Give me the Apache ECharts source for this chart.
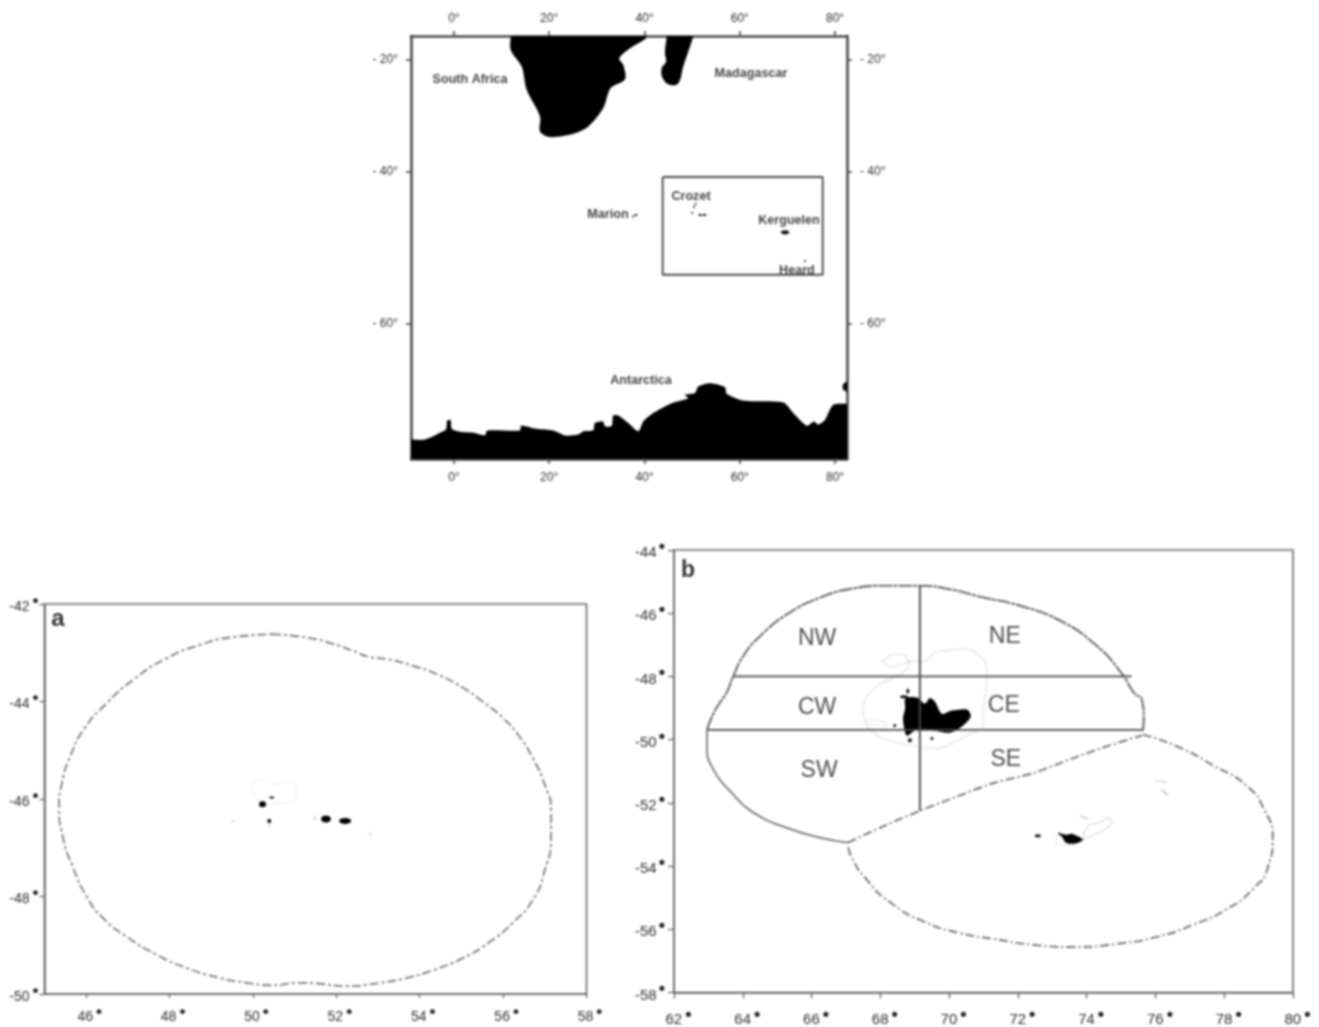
<!DOCTYPE html>
<html><head><meta charset="utf-8">
<style>html,body{margin:0;padding:0;background:#fff}#c{width:1319px;height:1027px;filter:blur(0.85px)}</style>
<script src="https://cdn.jsdelivr.net/npm/echarts@6/dist/echarts.min.js"></script>
</head><body><div id="c"></div>
<script>
// ---- overview map (lon, lat) ----
const mapLonTicks=[0,20,40,60,80];
const mapLatTicks=[-20,-40,-60];
const africa=[[11.92,-12],[11.92,-15.24],[11.92,-18.02],[14.23,-21.3],[15.28,-25.74],[18.07,-30.63],[18.07,-33.3],[20.17,-34.26],[25.06,-33.68],[28.21,-32.4],[31.35,-29.1],[32.91,-25.4],[35.91,-23.72],[35.55,-20.96],[34.71,-19.66],[36.96,-17.68],[40.1,-15.9],[40.46,-15.24],[41,-12]];
const madagascar=[[44.9,-12],[44.66,-15.24],[44.3,-18.67],[44.51,-20.33],[43.6,-21.6],[43.82,-23.52],[45.35,-24.8],[47.1,-24.48],[48.14,-21.29],[49.55,-17.36],[50.24,-15.24],[51,-12]];
const antarctica=[[-13,-74],[-13,-70.05],[-9,-70.05],[-6.06,-70.05],[-2.92,-69.56],[-1.66,-69.33],[-1.39,-68.65],[-0.67,-68.65],[-0.46,-69.27],[1.28,-69.49],[4.07,-69.56],[6.53,-69.74],[7.01,-69.4],[13.87,-69.4],[14.08,-69.04],[17.38,-69.27],[20.86,-69.4],[23.32,-69.76],[26.11,-69.69],[27.16,-69.45],[29.25,-69.38],[29.61,-68.84],[31.35,-68.75],[31.71,-69.09],[33.12,-69.04],[33.45,-68.26],[34.5,-68.26],[36.6,-68.84],[38.7,-69.45],[39.75,-68.72],[41.85,-68.08],[45.71,-67.3],[49.19,-66.9],[48.5,-66.62],[50.6,-66.47],[51.29,-65.92],[53.75,-65.63],[56.9,-65.97],[57.25,-66.53],[60.73,-67.09],[69.13,-67.25],[71.23,-68.08],[74.04,-69.04],[75.57,-68.72],[76.47,-68.96],[77.88,-68.6],[79.62,-67.43],[82.5,-67.35],[86,-67.35],[86,-74]];
const antarcticaEdge=[[84,-65.35],[81.76,-65.69],[81.76,-66.2],[84,-66.45]];
const insetBox=[[43.82,-40.85],[77.4,-40.85],[77.4,-54.47],[43.82,-54.47],[43.82,-40.85]];
const mapIslands=[[38.2,-46.56],[37.6,-46.8],[50.4,-45.41],[50.0,-46.27],[51.7,-46.56],[52.6,-46.56],[50.7,-44.98],[69.5,-49.0],[73.7,-52.76]];
const mapIslandW=[3,2,2,2,4,4,2,8,2];
const mapIslandH=[2,2,2,2,2,2,2,4,2];
const mapNames=[["South Africa",3.38,-23.76],["Madagascar",62.35,-22.6],["Crozet",49.76,-43.82],["Kerguelen",70.33,-47.3],["Heard",72.0,-53.92],["Marion",32.34,-46.47],["Antarctica",39.26,-65.39]];

// ---- panel a ----
const aLonTicks=[46,48,50,52,54,56,58];
const aBoundary=[[50.46,-42.62],[51.37,-42.7],[51.92,-42.82],[52.4,-42.96],[52.81,-43.09],[53.21,-43.13],[53.84,-43.27],[54.41,-43.44],[55.04,-43.72],[55.52,-44.01],[56,-44.34],[56.4,-44.73],[56.71,-45.16],[57,-45.71],[57.15,-46.23],[57.15,-46.78],[57,-47.46],[56.71,-48.07],[56.23,-48.54],[55.68,-48.93],[55.04,-49.26],[54.32,-49.51],[53.69,-49.67],[53.05,-49.77],[52.25,-49.84],[51.61,-49.79],[51.13,-49.77],[50.41,-49.82],[49.86,-49.77],[49.21,-49.67],[48.42,-49.47],[47.7,-49.2],[46.98,-48.83],[46.4,-48.44],[46.02,-48.01],[45.66,-47.35],[45.44,-46.78],[45.35,-46.16],[45.42,-45.67],[45.61,-45.14],[45.97,-44.54],[46.5,-44.03],[47.12,-43.56],[47.94,-43.11],[48.73,-42.84],[49.52,-42.68],[50.46,-42.62]];
const aShelf=[[49.98,-45.67],[50.12,-45.59],[50.36,-45.63],[50.53,-45.71],[50.77,-45.65],[50.96,-45.67],[51.05,-45.82],[50.93,-46.06],[50.58,-46.08],[50.34,-46.12],[50.1,-45.98],[50,-45.82],[49.98,-45.67]];
const aIslands=[[50.23,-46.11],[50.45,-45.97],[50.39,-46.45],[51.75,-46.41],[52.21,-46.45]];
const aIslandW=[7,5,4,10,12];
const aIslandH=[6,2,4,7,6];
const aFaint=[[49.52,-46.45],[52.81,-46.72],[51.49,-46.39],[50.4,-46.55]];

// ---- panel b ----
const bNorth=[[62.96,-49.68],[63.19,-49.08],[63.54,-48.49],[63.69,-48.08],[64.01,-47.36],[64.5,-46.73],[65.28,-46.04],[66.24,-45.51],[67.2,-45.22],[68.19,-45.13],[69.15,-45.13],[70.11,-45.26],[70.9,-45.48],[72.06,-45.76],[73.22,-46.23],[74.24,-46.98],[74.97,-47.83],[75.4,-48.55],[75.6,-48.71],[75.66,-49.34],[75.63,-49.74]];
const bSouthWest=[[62.96,-49.68],[62.96,-50.28],[63.13,-50.91],[63.63,-51.63],[64.41,-52.38],[65.28,-52.79],[66.24,-53.1],[67.06,-53.26]];
const bSplit=[[67.06,-53.26],[68.19,-52.69],[69.15,-52.25],[70.11,-51.85],[71.27,-51.38],[72.44,-51.06],[73.6,-50.59],[74.67,-50.18],[75.6,-49.87]];
const bHeard=[[75.63,-49.84],[76.62,-50.21],[77.67,-50.81],[78.66,-51.47],[79.18,-52.25],[79.41,-53.1],[79.27,-54.04],[78.83,-54.73],[78.08,-55.36],[77.09,-55.86],[76.04,-56.24],[74.88,-56.46],[73.6,-56.56],[72.44,-56.49],[71.27,-56.3],[70.31,-56.12],[69.3,-55.77],[68.28,-55.14],[67.55,-54.36],[67.17,-53.73],[67.06,-53.32]];
const bDivideNorth=[[63.72,-48],[75.31,-48]];
const bDivideSouth=[[62.97,-49.69],[75.64,-49.69]];
const bDivideMeridian=[[69.15,-45.13],[69.15,-52.25]];
const kerguelen=[[68.72,-48.71],[68.86,-48.65],[69.09,-48.68],[69.3,-48.86],[69.44,-48.68],[69.59,-48.8],[69.79,-49.18],[70.08,-49.08],[70.52,-49.05],[70.63,-49.27],[70.4,-49.56],[70.02,-49.78],[69.53,-49.71],[69.06,-49.68],[68.77,-49.87],[68.66,-49.34],[68.72,-49.02]];
const heard=[[73.16,-52.95],[73.4,-53.01],[73.57,-52.98],[73.89,-53.17],[73.66,-53.29],[73.4,-53.26],[73.28,-53.07]];
const bDots=[[68.86,-50.02],[69.5,-49.96],[68.42,-49.55],[68.69,-48.64],[68.8,-48.46],[72.58,-53.04]];
const bDotW=[4,3,3,8,3,6];
const bDotH=[4,3,3,3,5,3];
const kerguelenShelf=[[68.08,-47.52],[68.34,-47.3],[68.66,-47.3],[68.86,-47.52],[69.24,-47.52],[69.65,-47.23],[70.52,-47.14],[70.84,-47.3],[71.07,-47.61],[71.1,-48.08],[71.04,-48.71],[70.98,-49.24],[70.98,-49.56],[70.52,-49.87],[69.65,-50.28],[68.86,-50.18],[68.08,-49.96],[67.61,-49.56],[67.49,-48.93],[67.9,-48.3],[68.48,-47.99],[68.77,-47.77],[68.86,-47.52],[68.28,-47.7],[68.08,-47.52]];
const kerguelenInner=[[67.58,-49.37],[68.13,-49.43],[68.19,-49.59],[67.7,-49.55],[67.58,-49.37]];
const heardShelf=[[73.95,-52.88],[74.09,-52.69],[74.38,-52.63],[74.62,-52.47],[74.73,-52.63],[74.47,-52.88],[74.15,-53.04],[73.89,-53.17],[73.95,-52.88]];
const heardShelf2=[[73.13,-53.1],[73.1,-53.32],[73.66,-53.35]];
const heardShelf3=[[73.8,-52.41],[74.03,-52.51]];
const mcdA=[[76,-51.31],[76.34,-51.34]];
const mcdB=[[76.19,-51.6],[76.36,-51.75]];
const sectorNames=[["NW",66.16,-46.81],["CW",66.16,-48.98],["SW",66.22,-50.99],["NE",71.62,-46.75],["CE",71.59,-48.91],["SE",71.65,-50.64]];

// Mercator for the overview map's latitude axis
const merc=lat=>Math.log(Math.tan(Math.PI/4+lat*Math.PI/360));
const invMerc=m=>(2*Math.atan(Math.exp(m))-Math.PI/2)*180/Math.PI;
const proj=pts=>pts.map(p=>[p[0],merc(p[1])]);

const FONT='"Liberation Sans",Arial,sans-serif', INK='#2e2e2e', AX='#666';
function panelRich(fs,lh,gap){return {
  n:{fontFamily:FONT,color:INK,fontSize:fs,lineHeight:lh,verticalAlign:'middle'},
  d:{fontFamily:FONT,color:'#222',fontWeight:'bold',fontSize:fs+3,lineHeight:2,verticalAlign:'top',padding:[0,0,0,gap]}};}

function polygon(pts,x,y,smooth){return {type:'custom',xAxisIndex:x,yAxisIndex:y,data:pts,silent:true,clip:true,z:3,encode:{x:0,y:1},
  renderItem:(p,api)=>p.dataIndex===0?{type:'polygon',shape:{points:pts.map(q=>api.coord(q)),smooth:smooth||0},style:{fill:'#000'}}:null};}
function line(pts,x,y,color,width,type,smooth,z){return {type:'line',xAxisIndex:x,yAxisIndex:y,data:pts,showSymbol:false,silent:true,clip:true,smooth:smooth||false,z:z||4,
  lineStyle:{color:color,width:width,type:type||'solid'}};}
function dots(pts,w,h,x,y,color){return {type:'scatter',xAxisIndex:x,yAxisIndex:y,silent:true,z:5,
  data:pts.map((p,i)=>({value:p,symbolSize:[w[i],h[i]]})),itemStyle:{color:color||'#000',opacity:1}};}
function texts(rows,x,y,toY,fs,weight,color){return {type:'scatter',xAxisIndex:x,yAxisIndex:y,silent:true,z:6,symbolSize:0.1,itemStyle:{color:'transparent'},
  data:rows.map(r=>({name:r[0],value:[r[1],toY(r[2])]})),
  label:{show:true,position:'inside',formatter:'{b}',fontFamily:FONT,fontSize:fs,fontWeight:weight,color:color,align:'center',verticalAlign:'middle'},labelLayout:{hideOverlap:false}};}
const id=v=>v;

const mapLine={show:true,onZero:false,lineStyle:{color:'#4a4a4a',width:2.6}};
const mapTick={show:true,length:5,lineStyle:{color:'#4a4a4a',width:1.6}};
const mapYLabel={fontFamily:FONT,fontSize:12,color:INK,margin:13,formatter:v=>'- '+Math.abs(Math.round(invMerc(v)))+'°',customValues:mapLatTicks.map(merc)};
const mapX=(pos,m)=>({type:'value',gridIndex:0,position:pos,min:-9,max:82.5,splitLine:{show:false},axisLine:mapLine,axisTick:{...mapTick,customValues:mapLonTicks},
  axisLabel:{fontFamily:FONT,fontSize:12,color:INK,margin:m,formatter:v=>v+'°',customValues:mapLonTicks}});
const mapY=pos=>({type:'value',gridIndex:0,position:pos,min:merc(-71.39),max:merc(-15.24),splitLine:{show:false},axisLine:mapLine,axisTick:{...mapTick,customValues:mapLatTicks.map(merc)},axisLabel:mapYLabel});

const fmt=v=>'{n|'+v+'}{d|•}';
const panelLine={show:true,onZero:false,lineStyle:{color:AX,width:1.6}};
const panelTick=l=>({show:true,length:l,lineStyle:{color:AX,width:1.3}});

const option={
  animation:false,backgroundColor:'#fff',
  grid:[
    {left:411,top:36,width:436,height:423,containLabel:false},
    {left:44.5,top:604,width:542,height:390,show:true,borderColor:AX,borderWidth:1.6,backgroundColor:'transparent'},
    {left:674,top:550,width:619,height:446,show:true,borderColor:AX,borderWidth:1.6,backgroundColor:'transparent'}
  ],
  xAxis:[mapX('bottom',13),mapX('top',11),
    {type:'value',gridIndex:1,min:45,max:58,splitLine:{show:false},axisLine:panelLine,axisTick:{...panelTick(4),customValues:aLonTicks},
      axisLabel:{customValues:aLonTicks,margin:10,padding:[0,0,0,7],formatter:fmt,rich:panelRich(14,26,3)}},
    {type:'value',gridIndex:2,min:62,max:80,interval:2,splitLine:{show:false},axisLine:panelLine,axisTick:panelTick(6),
      axisLabel:{margin:14,padding:[0,0,0,9],formatter:fmt,rich:panelRich(15,26,3)}}
  ],
  yAxis:[mapY('left'),mapY('right'),
    {type:'value',gridIndex:1,min:-50,max:-42,interval:2,splitLine:{show:false},axisLine:panelLine,axisTick:panelTick(5),
      axisLabel:{margin:6,padding:[6,0,0,0],formatter:fmt,rich:panelRich(14,29,3)}},
    {type:'value',gridIndex:2,min:-58,max:-44,interval:2,splitLine:{show:false},axisLine:panelLine,axisTick:panelTick(6),
      axisLabel:{margin:9,padding:[6,0,0,0],formatter:fmt,rich:panelRich(15,30,2)}}
  ],
  series:[
    polygon(proj(africa),0,0,0.3),polygon(proj(madagascar),0,0,0.4),polygon(proj(antarctica),0,0,0.25),polygon(proj(antarcticaEdge),0,0,0.3),
    line(proj(insetBox),0,0,'#4a4a4a',1.9),
    dots(proj(mapIslands),mapIslandW,mapIslandH,0,0,'#111'),
    texts(mapNames,0,0,merc,12.6,'bold','#111'),

    line(aBoundary,2,2,'#7a7a7a',1.8,[9,3,3,3],0.6),
    line(aShelf,2,2,'#e0e0e0',1,[2,2],0.4),
    dots(aIslands,aIslandW,aIslandH,2,2),
    dots(aFaint,[5,4,5,4],[3,4,4,4],2,2,'#e6e6e6'),
    texts([['a',45.32,-42.31]],2,2,id,24,'bold','#000'),

    line(kerguelenShelf,3,3,'#c6c6c6',1.3,[2,2],0.3),
    line(kerguelenInner,3,3,'#d0d0d0',1,[2,2]),
    line(heardShelf,3,3,'#c8c8c8',1.2,[2,1],0.3),
    line(heardShelf2,3,3,'#d8d8d8',1.2,[2,2]),
    line(heardShelf3,3,3,'#cfcfcf',1.5),
    line(mcdA,3,3,'#c4c4c4',1.6,[2,1]),
    line(mcdB,3,3,'#bdbdbd',1.6),
    polygon(kerguelen,3,3,0.3),polygon(heard,3,3,0.3),
    dots(bDots,bDotW,bDotH,3,3,'#111'),
    line(bNorth,3,3,'#6e6e6e',2.1,[14,1,4,1],0.5),
    line(bSouthWest,3,3,'#747474',1.8,'solid',0.5),
    line(bSplit,3,3,'#747474',1.9,[9,3,2,3],0.3),
    line(bHeard,3,3,'#747474',1.9,[9,3,2,3],0.6),
    line(bDivideNorth,3,3,'#4a4a4a',1.7),
    line(bDivideSouth,3,3,'#4a4a4a',1.7),
    line(bDivideMeridian,3,3,'#4a4a4a',1.9),
    texts(sectorNames,3,3,id,23,'normal','#222'),
    texts([['b',62.41,-44.66]],3,3,id,23,'bold','#000')
  ]
};
echarts.init(document.getElementById('c')).setOption(option);
</script></body></html>
